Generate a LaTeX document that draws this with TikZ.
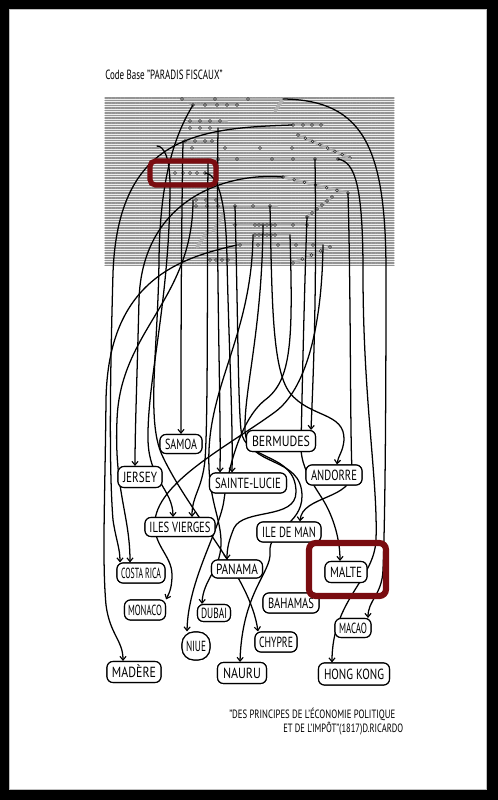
\documentclass[tikz,border=0pt]{standalone}
\usepackage{fontspec}
\setmainfont{PT Sans}
\usepackage{graphicx}
\usetikzlibrary{arrows.meta,calc}
\definecolor{mred}{RGB}{122,12,16}
\newcommand\fw[2]{\resizebox{#1}{\height}{#2}}
\newcommand\crow[4]{\draw[hl] (#1,#3) -- (#2,#3); \foreach \xx in {#4} {\draw[dt] (\xx,#3) circle (1.4);}}
\newcommand\cdiag[5]{\draw[hl] (#1,#2) -- (#3,#4); \foreach \pp in {#5} {\draw[dt] ($(#1,#2)!\pp!(#3,#4)$) circle (1.4);}}
\begin{document}
\begin{tikzpicture}[x=0.75pt,y=-0.75pt,line cap=round,
  conn/.style={line width=0.95pt, black, -{Straight Barb[length=2.8pt,width=4.6pt,line width=0.85pt]}},
  cbox/.style={draw, line width=0.85pt, rounded corners=4.5pt, fill=white, inner sep=0pt,
    font=\fontsize{11}{12}\selectfont, text height=7.6pt, text depth=0pt},
  bx/.style 2 args={minimum width=#1*0.75pt, minimum height=#2*0.75pt},
  codeln/.style={black!42, line width=0.8pt, dash pattern=on 1.1pt off 0.45pt on 0.6pt off 0.45pt},
  hl/.style={line width=2.2pt, gray!60},
  dt/.style={draw=gray!30!black, fill=gray!35, line width=0.4pt},
  redbox/.style={draw=mred, rounded corners=4pt},
  txt/.style={inner sep=0pt, font=\fontsize{10}{11}\selectfont},
  ctxt/.style={inner sep=0pt, font=\fontsize{9}{10}\selectfont}]
\useasboundingbox (0,0) rectangle (498,800);
\fill[black] (0,0) rectangle (498,800);
\fill[white] (9,9) rectangle (487,790);
\draw[gray!50, line width=0.8pt] (9.5,9.5) rectangle (486.5,789.5);

% title
\node[txt, anchor=west] (title) at (105,75) {\fw{88pt}{Code Base "PARADIS FISCAUX"}};

% code texture
\fill[gray!14] (105,97) rectangle (394,266);
\foreach \i in {0,...,67} {\draw[codeln] (105,{98+2.5*\i}) -- (394,{98+2.5*\i});}

% highlighted rows
\crow{182}{282}{99}{182,215,248}
\crow{190}{238}{105}{193,205,217,227,237}
\draw[hl, line width=2.6pt] (275,111) -- (283,99);
\crow{188}{227}{121}{190,200,210,220}
\crow{188}{218}{128}{190,200,210}
\crow{292}{323}{125}{293,303,312,321}
\cdiag{298}{135}{350}{158}{0,0.14,0.28,0.42,0.57,0.71,0.85,1}
\crow{183}{213}{141}{185,195,205,212}
\crow{160}{293}{148}{192,225,260,292}
\crow{208}{350}{159}{218,237,272,293,315,338}
\crow{167}{206}{173}{175,183,190,197,205}
\cdiag{283}{177}{348}{193}{0,0.17,0.33,0.5,0.67,0.83,1}
\crow{193}{220}{200}{196,206,216}
\crow{193}{277}{206}{196,207,218,235,253,270}
\cdiag{307}{217}{332}{197}{0,0.2,0.4,0.6,0.8,1}
\crow{233}{307}{225}{235,255,259,263,267,271,275,293,307}
\crow{253}{290}{235}{255,259,263,267,271,275}
\draw[hl, line width=2.6pt] (197,247) -- (207,232);
\draw[hl, line width=2.6pt] (213,232) -- (223,215);
\crow{237}{323}{245}{240,258,278,296,313}
\cdiag{293}{263}{330}{247}{0,0.25,0.5,0.75,1}
\crow{208}{233}{260}{210,216,222,228}

% start points
\coordinate (s1) at (292,125);
\coordinate (s2) at (283,177);
\coordinate (s3) at (237,245);
\coordinate (s4) at (193,105);
\coordinate (s5) at (183,141);
\coordinate (s6) at (157,146);
\coordinate (s7) at (193,200);
\coordinate (s8) at (208,159);
\coordinate (s9) at (218,128);
\coordinate (s10) at (205,173);
\coordinate (s11) at (253,235);
\coordinate (s12) at (290,235);
\coordinate (s13) at (235,206);
\coordinate (s14) at (263,225);
\coordinate (s15) at (315,159);
\coordinate (s16) at (270,206);
\coordinate (s17) at (307,217);
\coordinate (s18) at (348,193);
\coordinate (s19) at (338,159);
\coordinate (s20) at (283,99);
\coordinate (s21) at (323,245);

% nodes (placed first so connectors can refer to them; redrawn on top later)
\begin{scope}[every node/.style={cbox}]
\node[bx={42}{19}] (samoa) at (181,444) {\fw{24pt}{SAMOA}};
\node[bx={69}{21}] (berm) at (281,441) {\fw{43.5pt}{BERMUDES}};
\node[bx={44}{21}] (jersey) at (140,477) {\fw{25.5pt}{JERSEY}};
\node[bx={77}{20}] (stel) at (248,483) {\fw{49.5pt}{SAINTE-LUCIE}};
\node[bx={56}{20}] (andorre) at (334,475) {\fw{34.5pt}{ANDORRE}};
\node[bx={70}{19}] (iles) at (180,527) {\fw{45.75pt}{ILES VIERGES}};
\node[bx={64}{20}] (iom) at (289,532) {\fw{40.5pt}{ILE DE MAN}};
\node[bx={48}{20}] (costa) at (141,573) {\fw{30pt}{COSTA RICA}};
\node[bx={51}{18}] (panama) at (237,569) {\fw{31.5pt}{PANAMA}};
\node[bx={42}{21}] (malte) at (346,572) {\fw{24pt}{MALTE}};
\node[bx={41}{20}] (monaco) at (145,610) {\fw{25.5pt}{MONACO}};
\node[bx={33}{17}] (dubai) at (214,613) {\fw{19.5pt}{DUBAI}};
\node[bx={56}{20}] (bahamas) at (291,603) {\fw{34.5pt}{BAHAMAS}};
\node[bx={36}{19}] (macao) at (353,628) {\fw{21pt}{MACAO}};
\node[bx={28}{28}, rounded corners=9pt] (niue) at (196,646) {\fw{15pt}{NIUE}};
\node[bx={42}{20}] (chypre) at (276,642) {\fw{25.5pt}{CHYPRE}};
\node[bx={54}{21}] (madere) at (134,672) {\fw{33pt}{MADÈRE}};
\node[bx={49}{21}] (nauru) at (242,673) {\fw{28.5pt}{NAURU}};
\node[bx={71}{22}] (hk) at (354,674) {\fw{45pt}{HONG KONG}};
\end{scope}

% connectors
\draw[conn] (s1) .. controls (200,128) and (118,135) .. (113,273) .. controls (110,380) and (109,470) .. (113,520) .. controls (116,540) and (120,548) .. ($(costa.north)+(-21,0)$);
\draw[conn] (s2) .. controls (225,172) and (142,200) .. (139,300) .. controls (137,380) and (135,430) .. ($(jersey.north)+(-5,0)$);
\draw[conn] (s3) .. controls (180,258) and (108,280) .. (106,400) .. controls (105,500) and (102,560) .. (106,605) .. controls (110,635) and (123,640) .. ($(madere.north)+(-11,0)$);
\draw[conn] (s4) .. controls (178,130) and (160,170) .. (159,260) .. controls (158,350) and (146,420) .. (162,455) .. controls (190,515) and (250,575) .. ($(chypre.north)+(-18,0)$);
\draw[conn] (s5) .. controls (181,250) and (181,350) .. (samoa.north);
\draw[conn] (s6) .. controls (164,146) and (170,158) .. (170,185) .. controls (170,300) and (147,380) .. (148,440) .. controls (149,480) and (173,490) .. ($(iles.north)+(-7,0)$);
\draw[conn] (s7) .. controls (193,300) and (120,330) .. (117,420) .. controls (114,490) and (130,515) .. ($(costa.north)+(-11,0)$);
\draw[conn] (s8) .. controls (207,300) and (208,420) .. (205,460) .. controls (202,490) and (192,495) .. ($(iles.north)+(12,0)$);
\draw[conn] (s9) .. controls (216,280) and (221,400) .. ($(stel.north)+(-28,0)$);
\draw[conn] (s10) .. controls (215,174) and (226,190) .. (227,260) .. controls (229,350) and (233,420) .. ($(stel.north)+(-16,0)$);
\draw[conn] (s11) .. controls (252,330) and (212,380) .. (209,450) .. controls (207,500) and (222,518) .. (221,545) .. controls (220,570) and (203,580) .. ($(dubai.north)+(-12,0)$);
\draw[conn] (s12) .. controls (293,340) and (292,380) .. (265,400) .. controls (240,420) and (228,470) .. (224,500) .. controls (220,530) and (188,580) .. ($(niue.north)+(-9,0)$);
\draw[conn] (s13) .. controls (238,320) and (238,400) .. (241,430) .. controls (244,462) and (296,452) .. (296,492) .. controls (296,520) and (244,508) .. (234,528) .. controls (229,540) and (227,548) .. ($(panama.north)+(-10,0)$);
\draw[conn] (s14) .. controls (262,330) and (244,390) .. (245,430) .. controls (246,468) and (302,455) .. (302,496) .. controls (302,525) and (268,530) .. (270,552) .. controls (272,572) and (242,592) .. ($(nauru.north)+(-2,0)$);
\draw[conn] (s15) .. controls (317,300) and (313,380) .. ($(berm.north)+(30,0)$);
\draw[conn] (s16) .. controls (272,300) and (272,370) .. (290,393) .. controls (310,418) and (345,412) .. (344,440) .. controls (343,452) and (338,456) .. ($(andorre.north)+(3,0)$);
\draw[conn] (s17) .. controls (304,300) and (302,400) .. (301,445) .. controls (300,470) and (318,490) .. (326,505) .. controls (334,520) and (340,540) .. ($(malte.north)+(-6,0)$);
\draw[conn] (s18) .. controls (351,300) and (350,430) .. (352,470) .. controls (354,500) and (302,495) .. ($(iom.north)+(11,0)$);
\draw[conn] (s19) .. controls (355,162) and (363,185) .. (363,273) .. controls (363,400) and (378,480) .. (376,540) .. controls (374,580) and (332,600) .. ($(hk.north)+(-22,0)$);
\draw[conn] (s20) .. controls (365,100) and (386,150) .. (386,273) .. controls (386,420) and (385,520) .. (383,570) .. controls (382,595) and (368,600) .. ($(macao.north)+(15,0)$);
\draw[conn] (s21) .. controls (322,330) and (305,390) .. (275,412) .. controls (230,445) and (160,480) .. (155,520) .. controls (152,545) and (172,555) .. (172,575) .. controls (172,590) and (168,595) .. (monaco.north east);

% nodes on top of the lines
\begin{scope}[every node/.style={cbox}]
\node[bx={42}{19}] at (samoa) {\fw{24pt}{SAMOA}};
\node[bx={69}{21}] at (berm) {\fw{43.5pt}{BERMUDES}};
\node[bx={44}{21}] at (jersey) {\fw{25.5pt}{JERSEY}};
\node[bx={77}{20}] at (stel) {\fw{49.5pt}{SAINTE-LUCIE}};
\node[bx={56}{20}] at (andorre) {\fw{34.5pt}{ANDORRE}};
\node[bx={70}{19}] at (iles) {\fw{45.75pt}{ILES VIERGES}};
\node[bx={64}{20}] at (iom) {\fw{40.5pt}{ILE DE MAN}};
\node[bx={48}{20}] at (costa) {\fw{30pt}{COSTA RICA}};
\node[bx={51}{18}] at (panama) {\fw{31.5pt}{PANAMA}};
\node[bx={42}{21}] at (malte) {\fw{24pt}{MALTE}};
\node[bx={41}{20}] at (monaco) {\fw{25.5pt}{MONACO}};
\node[bx={33}{17}] at (dubai) {\fw{19.5pt}{DUBAI}};
\node[bx={56}{20}] at (bahamas) {\fw{34.5pt}{BAHAMAS}};
\node[bx={36}{19}] at (macao) {\fw{21pt}{MACAO}};
\node[bx={28}{28}, rounded corners=9pt] at (niue) {\fw{15pt}{NIUE}};
\node[bx={42}{20}] at (chypre) {\fw{25.5pt}{CHYPRE}};
\node[bx={54}{21}] at (madere) {\fw{33pt}{MADÈRE}};
\node[bx={49}{21}] at (nauru) {\fw{28.5pt}{NAURU}};
\node[bx={71}{22}] at (hk) {\fw{45pt}{HONG KONG}};
\end{scope}

% highlight boxes
\draw[redbox, line width=3.8pt] (150,161) rectangle (216,185);
\draw[redbox, line width=4.6pt, rounded corners=5pt] (309,543) rectangle (386,596);

% citation
\node[ctxt, anchor=west] (cit1) at (229,714) {\fw{124.5pt}{"DES PRINCIPES DE L'ÉCONOMIE POLITIQUE}};
\node[ctxt, anchor=west] (cit2) at (283,729) {\fw{90pt}{ET DE L'IMPÔT"(1817)D.RICARDO}};
\end{tikzpicture}
\end{document}
